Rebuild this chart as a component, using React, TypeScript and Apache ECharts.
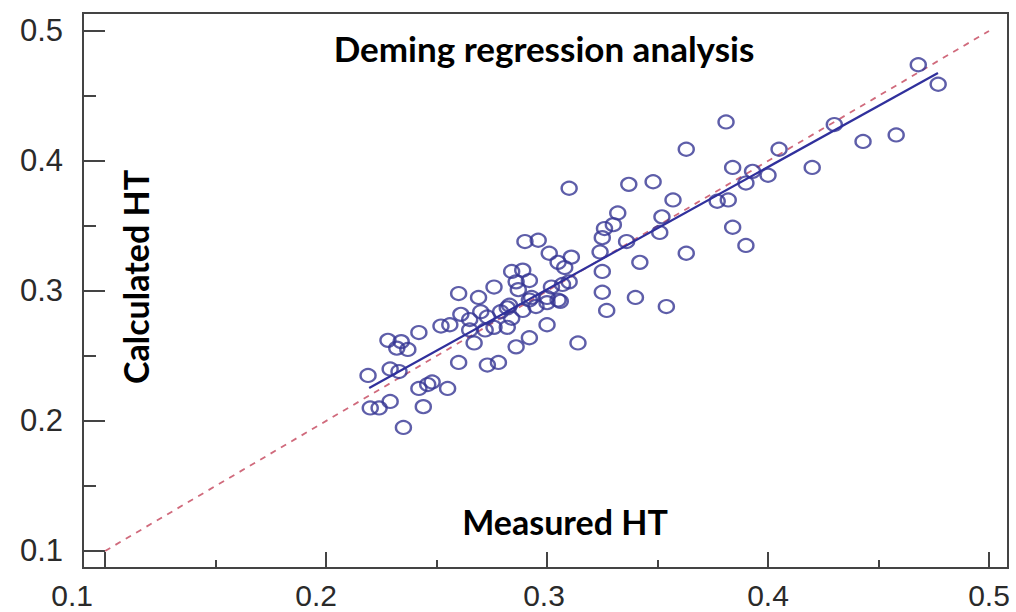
import React, { useEffect, useRef } from "react";
import * as echarts from "echarts";

// Measured HT (x) and calculated HT (y) for each sample
const measuredHT = [
  0.219, 0.22, 0.224, 0.229, 0.235, 0.228, 0.234, 0.232, 0.237, 0.242,
  0.252, 0.256, 0.229, 0.242, 0.246, 0.248, 0.255, 0.26, 0.273, 0.278,
  0.233, 0.244, 0.26, 0.269, 0.276, 0.261, 0.265, 0.27, 0.273, 0.279,
  0.282, 0.284, 0.289, 0.292, 0.295, 0.3, 0.305, 0.302, 0.307, 0.301,
  0.305, 0.308, 0.265, 0.272, 0.276, 0.282, 0.3, 0.292, 0.286, 0.267,
  0.284, 0.289, 0.286, 0.292, 0.287, 0.31, 0.29, 0.296, 0.311, 0.324,
  0.332, 0.326, 0.33, 0.325, 0.336, 0.325, 0.325, 0.34, 0.31, 0.293,
  0.3, 0.306, 0.283, 0.337, 0.348, 0.357, 0.352, 0.351, 0.342, 0.363,
  0.327, 0.354, 0.363, 0.381, 0.384, 0.393, 0.39, 0.4, 0.405, 0.377,
  0.382, 0.384, 0.39, 0.42, 0.43, 0.443, 0.458, 0.477, 0.468, 0.314,
];
const calculatedHT = [
  0.235, 0.21, 0.21, 0.215, 0.195, 0.262, 0.261, 0.256, 0.255, 0.268,
  0.273, 0.274, 0.24, 0.225, 0.228, 0.23, 0.225, 0.245, 0.243, 0.245,
  0.238, 0.211, 0.298, 0.295, 0.303, 0.282, 0.278, 0.284, 0.28, 0.284,
  0.287, 0.279, 0.285, 0.293, 0.288, 0.291, 0.293, 0.303, 0.305, 0.329,
  0.322, 0.318, 0.27, 0.27, 0.272, 0.272, 0.274, 0.264, 0.257, 0.26,
  0.315, 0.316, 0.307, 0.308, 0.301, 0.379, 0.338, 0.339, 0.326, 0.33,
  0.36, 0.348, 0.351, 0.341, 0.338, 0.315, 0.299, 0.295, 0.307, 0.295,
  0.295, 0.292, 0.289, 0.382, 0.384, 0.37, 0.357, 0.345, 0.322, 0.329,
  0.285, 0.288, 0.409, 0.43, 0.395, 0.392, 0.383, 0.389, 0.409, 0.369,
  0.37, 0.349, 0.335, 0.395, 0.428, 0.415, 0.42, 0.459, 0.474, 0.26,
];

// Reference lines
const identityX = [0.1, 0.5];
const identityY = [0.1, 0.5];
const demingFitX = [0.2195, 0.4769];
const demingFitY = [0.2254, 0.4677];

// Axis ticks
const majorTicks = [0.1, 0.2, 0.3, 0.4, 0.5];
const minorTicks = [0.15, 0.25, 0.35, 0.45];

const titleText = "Deming regression analysis";
const xName = "Measured HT";
const yName = "Calculated HT";

const X_MIN = 0.09;
const X_MAX = 0.5086;
const Y_MIN = 0.0869;
const Y_MAX = 0.5138;

const axisColor = "#444444";
const pointColor = "#363694";
const labelFont = "'Liberation Sans', Arial, sans-serif";

// label nudges (px, leftward) as in the original figure
const xLabelShift: Record<string, number> = { "0.1": 33, "0.2": 10, "0.3": 3 };

export default function App() {
  const ref = useRef<HTMLDivElement>(null);

  useEffect(() => {
    const chart = echarts.init(ref.current!, null, { renderer: "svg" });
    const tickLine = { color: axisColor, width: 2 };
    const xText = { fontSize: 30, lineHeight: 30, color: "#2a2a2a", fontFamily: labelFont };
    const yText = { fontSize: 31, color: "#2a2a2a", fontFamily: labelFont };
    const rich: Record<string, any> = {};
    Object.keys(xLabelShift).forEach((k, i) => {
      rich["s" + i] = { ...xText, padding: [0, xLabelShift[k] * 2, 0, 0] };
    });
    const xFormatter = (v: number) => {
      const t = v.toFixed(1);
      const keys = Object.keys(xLabelShift);
      const idx = keys.indexOf(t);
      return idx >= 0 ? `{s${idx}|${t}}` : t;
    };
    chart.setOption({
      animation: false,
      backgroundColor: "#ffffff",
      grid: {
        left: 83,
        right: 8,
        top: 13,
        bottom: 44,
        show: true,
        borderColor: axisColor,
        borderWidth: 2,
      },
      xAxis: [
        {
          type: "value",
          min: X_MIN,
          max: X_MAX,
          axisLine: { show: true, onZero: false, lineStyle: tickLine },
          axisTick: { show: true, inside: true, length: 16, customValues: majorTicks, lineStyle: tickLine },
          axisLabel: { ...xText, customValues: majorTicks, margin: 12, formatter: xFormatter, rich },
          splitLine: { show: false },
        },
        {
          type: "value",
          min: X_MIN,
          max: X_MAX,
          position: "bottom",
          axisLine: { show: false },
          axisTick: { show: true, inside: true, length: 8, customValues: minorTicks, lineStyle: tickLine },
          axisLabel: { show: false },
          splitLine: { show: false },
        },
      ],
      yAxis: [
        {
          type: "value",
          min: Y_MIN,
          max: Y_MAX,
          axisLine: { show: true, onZero: false, lineStyle: tickLine },
          axisTick: { show: true, inside: true, length: 22, customValues: majorTicks, lineStyle: tickLine },
          axisLabel: { ...yText, customValues: majorTicks, margin: 20, formatter: (v: number) => v.toFixed(1) },
          splitLine: { show: false },
        },
        {
          type: "value",
          min: Y_MIN,
          max: Y_MAX,
          position: "left",
          axisLine: { show: false },
          axisTick: { show: true, inside: true, length: 13, customValues: minorTicks, lineStyle: tickLine },
          axisLabel: { show: false },
          splitLine: { show: false },
        },
      ],
      graphic: [
        {
          type: "text",
          x: 544,
          y: 48,
          style: {
            text: titleText,
            font: "bold 35px Lato, 'Open Sans', sans-serif",
            fill: "#000",
            textAlign: "center",
            textVerticalAlign: "middle",
          },
        },
        {
          type: "text",
          x: 565,
          y: 521,
          style: {
            text: xName,
            font: "bold 34px Lato, 'Open Sans', sans-serif",
            fill: "#000",
            textAlign: "center",
            textVerticalAlign: "middle",
          },
        },
        {
          type: "text",
          x: 135,
          y: 277,
          rotation: Math.PI / 2,
          style: {
            text: yName,
            font: "bold 34px Lato, 'Open Sans', sans-serif",
            fill: "#000",
            textAlign: "center",
            textVerticalAlign: "middle",
          },
        },
      ],
      series: [
        {
          type: "line",
          data: identityX.map((x, i) => [x, identityY[i]]),
          showSymbol: false,
          symbol: "none",
          lineStyle: { color: "#d06a7c", width: 1.8, type: [6, 6] },
          z: 2,
          silent: true,
        },
        {
          type: "scatter",
          data: measuredHT.map((x, i) => [x, calculatedHT[i]]),
          symbol: "circle",
          symbolSize: [15, 13],
          itemStyle: { color: "rgba(0,0,0,0)", borderColor: pointColor, borderWidth: 2.3 },
          z: 3,
        },
        {
          type: "line",
          data: demingFitX.map((x, i) => [x, demingFitY[i]]),
          showSymbol: false,
          symbol: "none",
          lineStyle: { color: "#30309c", width: 2.2 },
          z: 4,
          silent: true,
        },
      ],
    });
    return () => chart.dispose();
  }, []);

  return (
    <div
      ref={ref}
      style={{ position: "fixed", left: 0, top: 0, width: 1016, height: 612, background: "#fff" }}
    />
  );
}
